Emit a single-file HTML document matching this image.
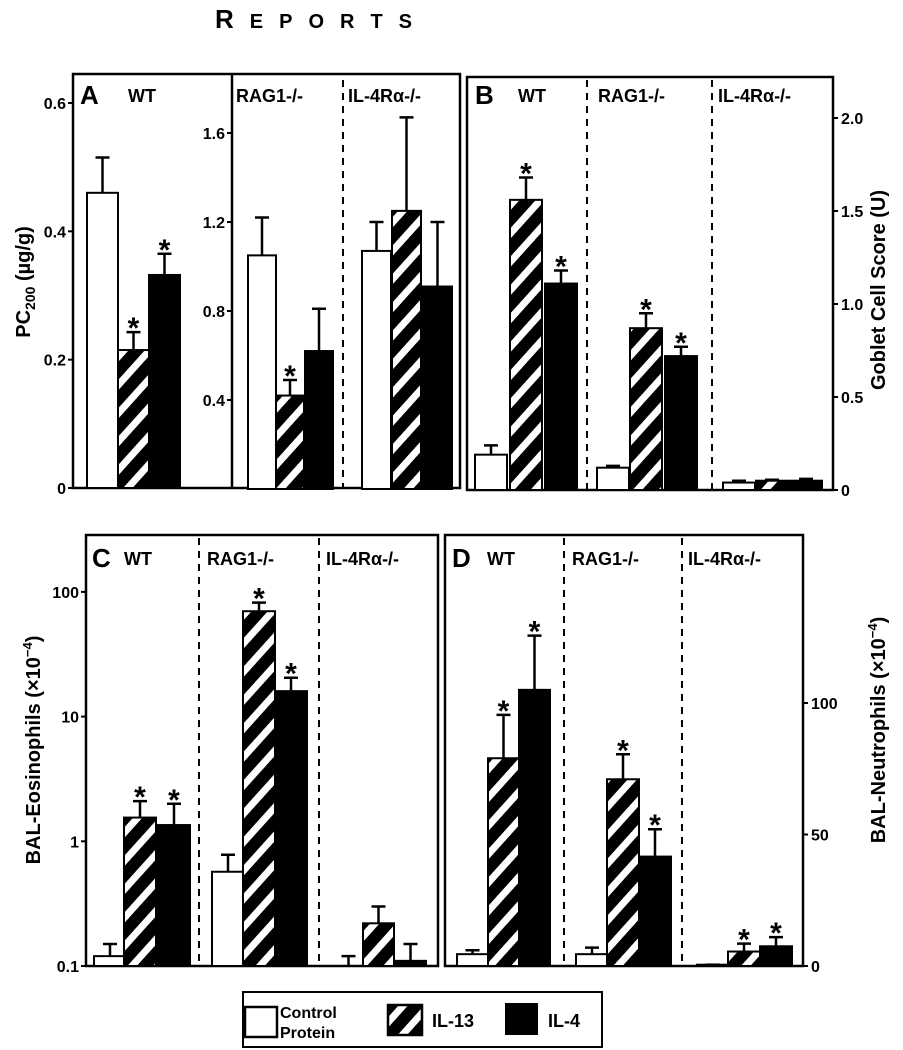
<!DOCTYPE html>
<html><head><meta charset="utf-8">
<style>
html,body{margin:0;padding:0;background:#fff;}
svg{display:block;font-family:"Liberation Sans",Arial,sans-serif;}
text{font-weight:bold;fill:#000;}
</style></head>
<body>
<svg id="fig" width="903" height="1050" viewBox="0 0 903 1050" xmlns="http://www.w3.org/2000/svg">
<defs>
<pattern id="hatch" patternUnits="userSpaceOnUse" width="19" height="19" patternTransform="rotate(42)">
<rect width="19" height="19" fill="#000"/>
<rect x="0" width="7" height="19" fill="#fff"/>
</pattern>
</defs>
<text x="215" y="28" font-size="26" letter-spacing="16">R<tspan font-size="20">EPORTS</tspan></text>
<g id="layer"></g>
</svg>
<script>
// Panel A (PC200, two axes)
const groups = ["WT","RAG1-/-","IL-4Rα-/-"];
const aCtrl = [0.46, 1.05, 1.07];
const aIL13 = [0.215, 0.42, 1.25];
const aIL4 = [0.332, 0.62, 0.91];
const aCtrlErr = [0.515, 1.22, 1.20];
const aIL13Err = [0.243, 0.49, 1.67];
const aIL4Err = [0.365, 0.81, 1.20];
const aStar = [[false,true,true],[false,true,false],[false,false,false]];
const aLeftTicks = ["0","0.2","0.4","0.6"];
const aLeftVals = [0,0.2,0.4,0.6];
const aRightTicks = ["0.4","0.8","1.2","1.6"];
const aRightVals = [0.4,0.8,1.2,1.6];
// Panel B (Goblet)
const bCtrl = [0.19, 0.12, 0.04];
const bIL13 = [1.56, 0.87, 0.05];
const bIL4 = [1.11, 0.72, 0.05];
const bCtrlErr = [0.24, 0.13, 0.05];
const bIL13Err = [1.68, 0.95, 0.055];
const bIL4Err = [1.18, 0.77, 0.06];
const bStar = [[false,true,true],[false,true,true],[false,false,false]];
const bTicks = ["0","0.5","1.0","1.5","2.0"];
const bVals = [0,0.5,1,1.5,2];
// Panel C (Eosinophils, log)
const cCtrl = [0.12, 0.57, 0.1];
const cIL13 = [1.55, 70, 0.22];
const cIL4 = [1.35, 16, 0.11];
const cCtrlErr = [0.15, 0.78, 0.12];
const cIL13Err = [2.1, 82, 0.30];
const cIL4Err = [2.0, 20.5, 0.15];
const cStar = [[false,true,true],[false,true,true],[false,false,false]];
const cTicks = ["0.1","1","10","100"];
const cVals = [0.1,1,10,100];
// Panel D (Neutrophils)
const dCtrl = [4.5, 4.5, 0.5];
const dIL13 = [79, 71, 5.5];
const dIL4 = [105, 41.6, 7.5];
const dCtrlErr = [6, 7, 0.5];
const dIL13Err = [95.5, 80.5, 8.5];
const dIL4Err = [125.6, 52, 11];
const dStar = [[false,true,true],[false,true,true],[false,true,true]];
const dTicks = ["0","50","100"];
const dVals = [0,50,100];

const NS="http://www.w3.org/2000/svg";
const layer=document.getElementById('layer');
function mk(tag,attrs,parent){const e=document.createElementNS(NS,tag);for(const k in attrs)e.setAttribute(k,attrs[k]);(parent||layer).appendChild(e);return e;}
function txt(x,y,s,size,anchor,parent){const t=mk('text',{x:x,y:y,'font-size':size,'text-anchor':anchor||'start'},parent);t.textContent=s;return t;}

function drawBars(g, xs, ctrl, il13, il4, ce, he, be, stars, yfn, base){
  const series=[ctrl,il13,il4], errs=[ce,he,be], fills=['#fff','url(#hatch)','#000'];
  for(let gi=0;gi<xs.length;gi++){
    for(let s=0;s<3;s++){
      const x0=xs[gi][s], w=xs[gi][3];
      const yt=yfn(series[s][gi]);
      const bar=mk('rect',{x:x0,y:yt,width:w,height:Math.max(0,base-yt),fill:fills[s],stroke:'#000','stroke-width':2},g);
      
      
      const ye=yfn(errs[s][gi]), cx=x0+w/2;
      const eb=mk('path',{d:`M${cx},${yt} V${ye} M${cx-7},${ye} H${cx+7}`,stroke:'#000','stroke-width':2.5,fill:'none'},g);
      
      
      if(stars[gi][s]){const st=txt(cx,ye+6,'*',30,'middle',g);
        
        }
    }
  }
}
function frame(g,x0,y0,x1,y1){const r=mk('rect',{x:x0,y:y0,width:x1-x0,height:y1-y0,fill:'none',stroke:'#000','stroke-width':2.5},g);
  
  }
function dashed(g,x,y0,y1){const l=mk('line',{x1:x,y1:y0,x2:x,y2:y1,stroke:'#000','stroke-width':2,'stroke-dasharray':'7,6'},g);
  
  }
function yTicks(g,x,labels,vals,yfn,side,size){
  for(let i=0;i<vals.length;i++){const y=yfn(vals[i]);
    mk('line',{x1:x,y1:y,x2:x+(side<0?-5:5),y2:y,stroke:'#000','stroke-width':2},g);
    const t=txt(side<0?x-7:x+8,y+6,labels[i],size||16,side<0?'end':'start',g);
    
    }
}
function vlabel(g,x,y,content,name){const t=mk('text',{x:0,y:0,'font-size':20,'text-anchor':'middle',transform:`translate(${x},${y}) rotate(-90)`},g);t.innerHTML=content;
  
  }
function label(g,x,y,s,size,name){const t=txt(x,y,s,size,'start',g);
  
  }

// ---- Panel A
const gA=mk('g',{});
const yA1=v=>488-v*641.7, yA2=v=>489-v*222.5;
frame(gA,73,74,460,488);
mk('line',{x1:232,y1:74,x2:232,y2:488,stroke:'#000','stroke-width':2.5},gA);
dashed(gA,343,80,488);
yTicks(gA,73,aLeftTicks,aLeftVals,yA1,-1);
yTicks(gA,232,aRightTicks,aRightVals,yA2,-1);
drawBars(gA,[[87,118,149,31]],[aCtrl[0]],[aIL13[0]],[aIL4[0]],[aCtrlErr[0]],[aIL13Err[0]],[aIL4Err[0]],[aStar[0]],yA1,488);
drawBars(gA,[[248,276,305,28],[362,392,423,29]],aCtrl.slice(1),aIL13.slice(1),aIL4.slice(1),aCtrlErr.slice(1),aIL13Err.slice(1),aIL4Err.slice(1),aStar.slice(1),yA2,489);
label(gA,80,104,'A',26,'panel-letter-a');
label(gA,128,102,groups[0],18,'group-label');
label(gA,236,102,groups[1],18,'group-label');
label(gA,348,102,groups[2],18,'group-label');
vlabel(gA,30,282,'PC<tspan font-size="14" dy="5">200</tspan><tspan dy="-5"> (µg/g)</tspan>','y-axis-title-a');

// ---- Panel B
const gB=mk('g',{});
const yB=v=>490-v*186;
frame(gB,467,77,833,490);
dashed(gB,587,80,490);dashed(gB,712,80,490);
yTicks(gB,833,bTicks,bVals,yB,1);
drawBars(gB,[[475,510,545,32],[597,630,665,32],[723,756,790,32]],bCtrl,bIL13,bIL4,bCtrlErr,bIL13Err,bIL4Err,bStar,yB,490);
label(gB,475,104,'B',26,'panel-letter-b');
label(gB,518,102,groups[0],18,'group-label');
label(gB,598,102,groups[1],18,'group-label');
label(gB,718,102,groups[2],18,'group-label');
vlabel(gB,885,290,'Goblet Cell Score (U)','y-axis-title-b');

// ---- Panel C
const gC=mk('g',{});
const yC=v=>966-(Math.log10(v)+1)*124.7;
frame(gC,86,535,438,966);
dashed(gC,199,538,966);dashed(gC,319,538,966);
yTicks(gC,86,cTicks,cVals,yC,-1);
drawBars(gC,[[94,124,158,32],[212,243,275,32],[333,363,395,31]],cCtrl,cIL13,cIL4,cCtrlErr,cIL13Err,cIL4Err,cStar,yC,966);
label(gC,92,567,'C',26,'panel-letter-c');
label(gC,124,565,groups[0],18,'group-label');
label(gC,207,565,groups[1],18,'group-label');
label(gC,326,565,groups[2],18,'group-label');
vlabel(gC,40,750,'BAL-Eosinophils (×10<tspan font-size="13" dy="-8">−4</tspan><tspan dy="8">)</tspan>','y-axis-title-c');

// ---- Panel D
const gD=mk('g',{});
const yD=v=>966-v*2.63;
frame(gD,445,535,803,966);
dashed(gD,564,538,966);dashed(gD,682,538,966);
yTicks(gD,803,dTicks,dVals,yD,1);
drawBars(gD,[[457,488,519,31],[576,607,639,32],[697,728,760,32]],dCtrl,dIL13,dIL4,dCtrlErr,dIL13Err,dIL4Err,dStar,yD,966);
label(gD,452,567,'D',26,'panel-letter-d');
label(gD,487,565,groups[0],18,'group-label');
label(gD,572,565,groups[1],18,'group-label');
label(gD,688,565,groups[2],18,'group-label');
vlabel(gD,885,730,'BAL-Neutrophils (×10<tspan font-size="13" dy="-8">−4</tspan><tspan dy="8">)</tspan>','y-axis-title-d');

// ---- Legend
const gL=mk('g',{});
mk('rect',{x:243,y:992,width:359,height:55,fill:'#fff',stroke:'#000','stroke-width':2},gL);
const l1=mk('rect',{x:245,y:1007,width:32,height:30,fill:'#fff',stroke:'#000','stroke-width':2.5},gL);

label(gL,280,1018,'Control',16,'legend-label-control');
label(gL,280,1038,'Protein',16,'legend-label-control-2');
const l2=mk('rect',{x:388,y:1005,width:34,height:30,fill:'url(#hatch)',stroke:'#000','stroke-width':2.5},gL);

label(gL,432,1027,'IL-13',18,'legend-label-il13');
const l3=mk('rect',{x:505,y:1003,width:33,height:32,fill:'#000'},gL);

label(gL,548,1027,'IL-4',18,'legend-label-il4');
</script>
</body></html>
